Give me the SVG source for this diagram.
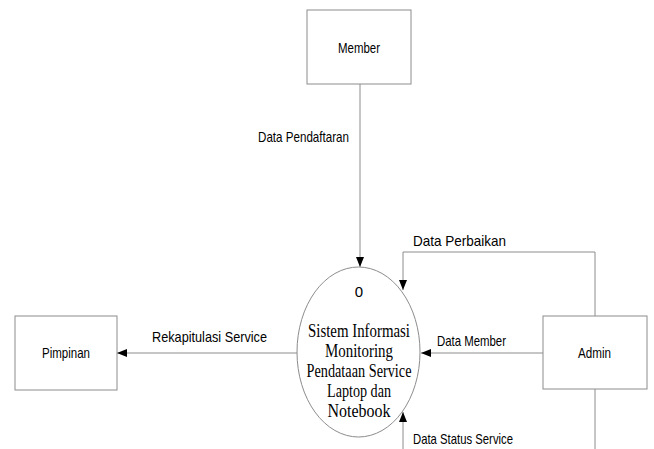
<svg xmlns="http://www.w3.org/2000/svg" width="654" height="449" viewBox="0 0 654 449">
  <style>
    .box { fill: #ffffff; stroke: #8c8c8c; stroke-width: 1; }
    .flow { fill: none; stroke: #8c8c8c; stroke-width: 1; }
    .lbl { font-family: "Liberation Sans", Arial, sans-serif; font-size: 15px; fill: #000; }
    .proc { font-family: "Liberation Serif", "Times New Roman", serif; font-size: 18.5px; fill: #000; text-anchor: middle; }
  </style>
  <defs>
    <marker id="arrow" viewBox="0 0 10 8" refX="10" refY="4" markerWidth="10" markerHeight="8" markerUnits="userSpaceOnUse" orient="auto">
      <path d="M0,0 L10,4 L0,8 Z" fill="#000"/>
    </marker>
  </defs>
  <rect width="654" height="449" fill="#ffffff"/>

  <g id="connectors">
    <!-- Member to process -->
    <line class="flow" x1="360" y1="84" x2="360" y2="267" marker-end="url(#arrow)"/>
    <!-- Admin to process (repair data) -->
    <polyline class="flow" points="595,316 595,252 403,252 403,290" marker-end="url(#arrow)"/>
    <!-- Admin to process (member data) -->
    <line class="flow" x1="543" y1="353" x2="421" y2="353" marker-end="url(#arrow)"/>
    <!-- process to Pimpinan -->
    <line class="flow" x1="297" y1="353" x2="117" y2="353" marker-end="url(#arrow)"/>
    <!-- Admin to process (service status) -->
    <line class="flow" x1="595" y1="389" x2="595" y2="449"/>
    <line class="flow" x1="403" y1="449" x2="403" y2="412" marker-end="url(#arrow)"/>
    <text class="lbl" x="258" y="142" textLength="91" lengthAdjust="spacingAndGlyphs">Data Pendaftaran</text>
    <text class="lbl" x="413" y="246" textLength="93" lengthAdjust="spacingAndGlyphs">Data Perbaikan</text>
    <text class="lbl" x="152" y="342" textLength="115" lengthAdjust="spacingAndGlyphs">Rekapitulasi Service</text>
    <text class="lbl" x="437" y="346" textLength="69" lengthAdjust="spacingAndGlyphs">Data Member</text>
    <text class="lbl" x="413" y="444" textLength="100" lengthAdjust="spacingAndGlyphs">Data Status Service</text>
  </g>

  <g id="member">
    <rect class="box" x="307" y="10" width="104" height="74"/>
    <text class="lbl" x="338" y="53" textLength="42" lengthAdjust="spacingAndGlyphs">Member</text>
  </g>

  <g id="pimpinan">
    <rect class="box" x="15" y="316" width="102" height="74"/>
    <text class="lbl" x="42" y="358" textLength="48" lengthAdjust="spacingAndGlyphs">Pimpinan</text>
  </g>

  <g id="admin">
    <rect class="box" x="543" y="316" width="104" height="73"/>
    <text class="lbl" x="578" y="358" textLength="33" lengthAdjust="spacingAndGlyphs">Admin</text>
  </g>

  <g id="process">
    <ellipse cx="358.5" cy="352" rx="61.5" ry="85" fill="#ffffff" stroke="#8c8c8c" stroke-width="1"/>
    <text class="lbl" x="359" y="297" text-anchor="middle">0</text>
    <text class="proc" x="359" y="337" textLength="102" lengthAdjust="spacingAndGlyphs">Sistem Informasi</text>
    <text class="proc" x="359" y="357" textLength="68" lengthAdjust="spacingAndGlyphs">Monitoring</text>
    <text class="proc" x="359" y="377" textLength="105" lengthAdjust="spacingAndGlyphs">Pendataan Service</text>
    <text class="proc" x="359" y="397" textLength="64" lengthAdjust="spacingAndGlyphs">Laptop dan</text>
    <text class="proc" x="359" y="417" textLength="63" lengthAdjust="spacingAndGlyphs">Notebook</text>
  </g>
</svg>
